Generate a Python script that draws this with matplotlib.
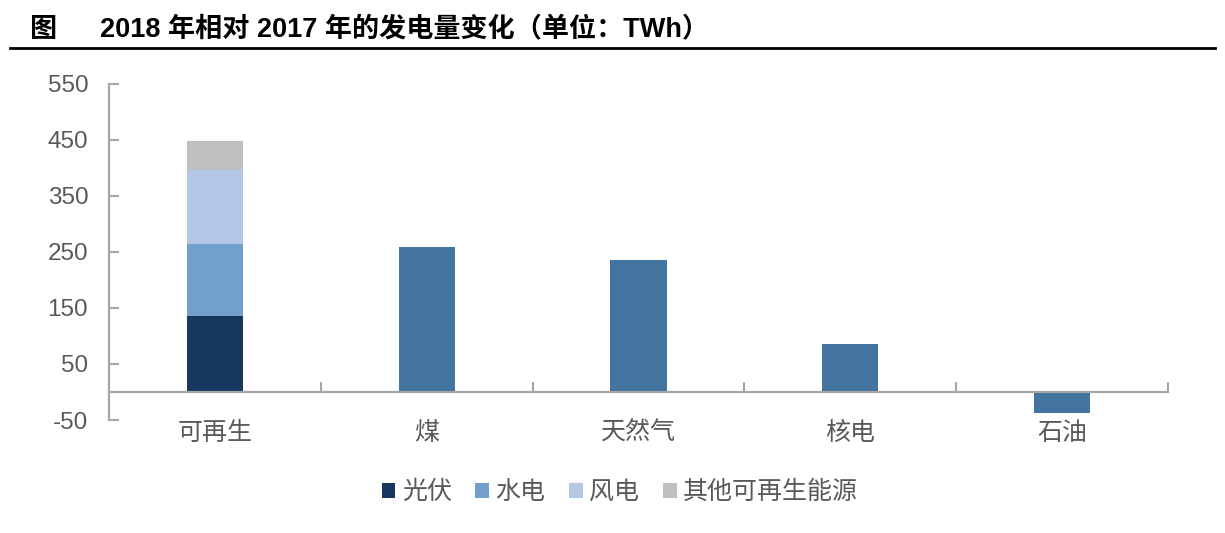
import matplotlib.pyplot as plt
from matplotlib.patches import Patch
from matplotlib.lines import Line2D

plt.rcParams['font.family'] = ['Liberation Sans', 'Noto Sans CJK SC', 'DejaVu Sans']
plt.rcParams['axes.unicode_minus'] = False

categories = ['可再生', '煤', '天然气', '核电', '石油']
# renewables split into parts
renew_parts = ['光伏', '水电', '风电', '其他可再生能源']
renew_values = [136, 128, 132, 53]
other_values = [258, 236, 86, -37]   # 煤, 天然气, 核电, 石油
yticks = [-50, 50, 150, 250, 350, 450, 550]

part_colors = ['#17375E', '#71A1CA', '#B4C7E7', '#BFBFBF']
bar_color = '#43739F'
axis_color = '#A6A6A6'
text_color = '#595959'

fig = plt.figure(figsize=(12.25, 5.33), dpi=100)
ax = fig.add_axes([0.089, 0.212, 0.8645, 0.6305])

w = 0.265
bottom = 0
for name, v, c in zip(renew_parts, renew_values, part_colors):
    ax.bar(0, v, width=w, bottom=bottom, color=c, label=name)
    bottom += v
ax.bar(range(1, len(categories)), other_values, width=w, color=bar_color)

ax.set_xlim(-0.5, len(categories) - 0.5)
ax.set_ylim(-50, 550)
ax.set_yticks(yticks)
ax.tick_params(axis='y', direction='in', length=7, width=1.5, color=axis_color,
               labelsize=17.5, labelcolor=text_color, pad=15)

for s in ['top', 'right']:
    ax.spines[s].set_visible(False)
ax.spines['left'].set_color(axis_color)
ax.spines['left'].set_linewidth(1.6)
ax.spines['bottom'].set_position(('data', 0))
ax.spines['bottom'].set_color(axis_color)
ax.spines['bottom'].set_linewidth(1.6)

# boundary ticks on zero line, category labels below the plot
ax.set_xticks([i + 0.5 for i in range(len(categories))])
ax.set_xticklabels([])
ax.set_xticks(range(len(categories)), minor=True)
ax.set_xticklabels(categories, minor=True)
ax.tick_params(axis='x', which='major', direction='in', length=7, width=1.5, color=axis_color)
ax.tick_params(axis='x', which='minor', length=0, pad=21, labelsize=18, labelcolor=text_color)

handles = [Patch(facecolor=c, edgecolor='none') for c in part_colors]
fig.legend(handles, renew_parts, loc='center', bbox_to_anchor=(0.506, 0.077), ncol=4,
           frameon=False, handlelength=0.55, handleheight=0.55, handletextpad=0.25,
           columnspacing=0.95, fontsize=18, labelcolor=text_color)

# header
fig.text(30 / 1225, 1 - 30 / 533, '图', fontsize=19.5, fontweight='bold', va='center')
fig.text(100 / 1225, 1 - 30 / 533, '2018 年相对 2017 年的发电量变化（单位：TWh）',
         fontsize=19.5, fontweight='bold', va='center')
fig.add_artist(Line2D([10 / 1225, 1215 / 1225], [1 - 48 / 533, 1 - 48 / 533],
                      color='black', linewidth=2, transform=fig.transFigure))

fig.savefig('out.png', dpi=100)
